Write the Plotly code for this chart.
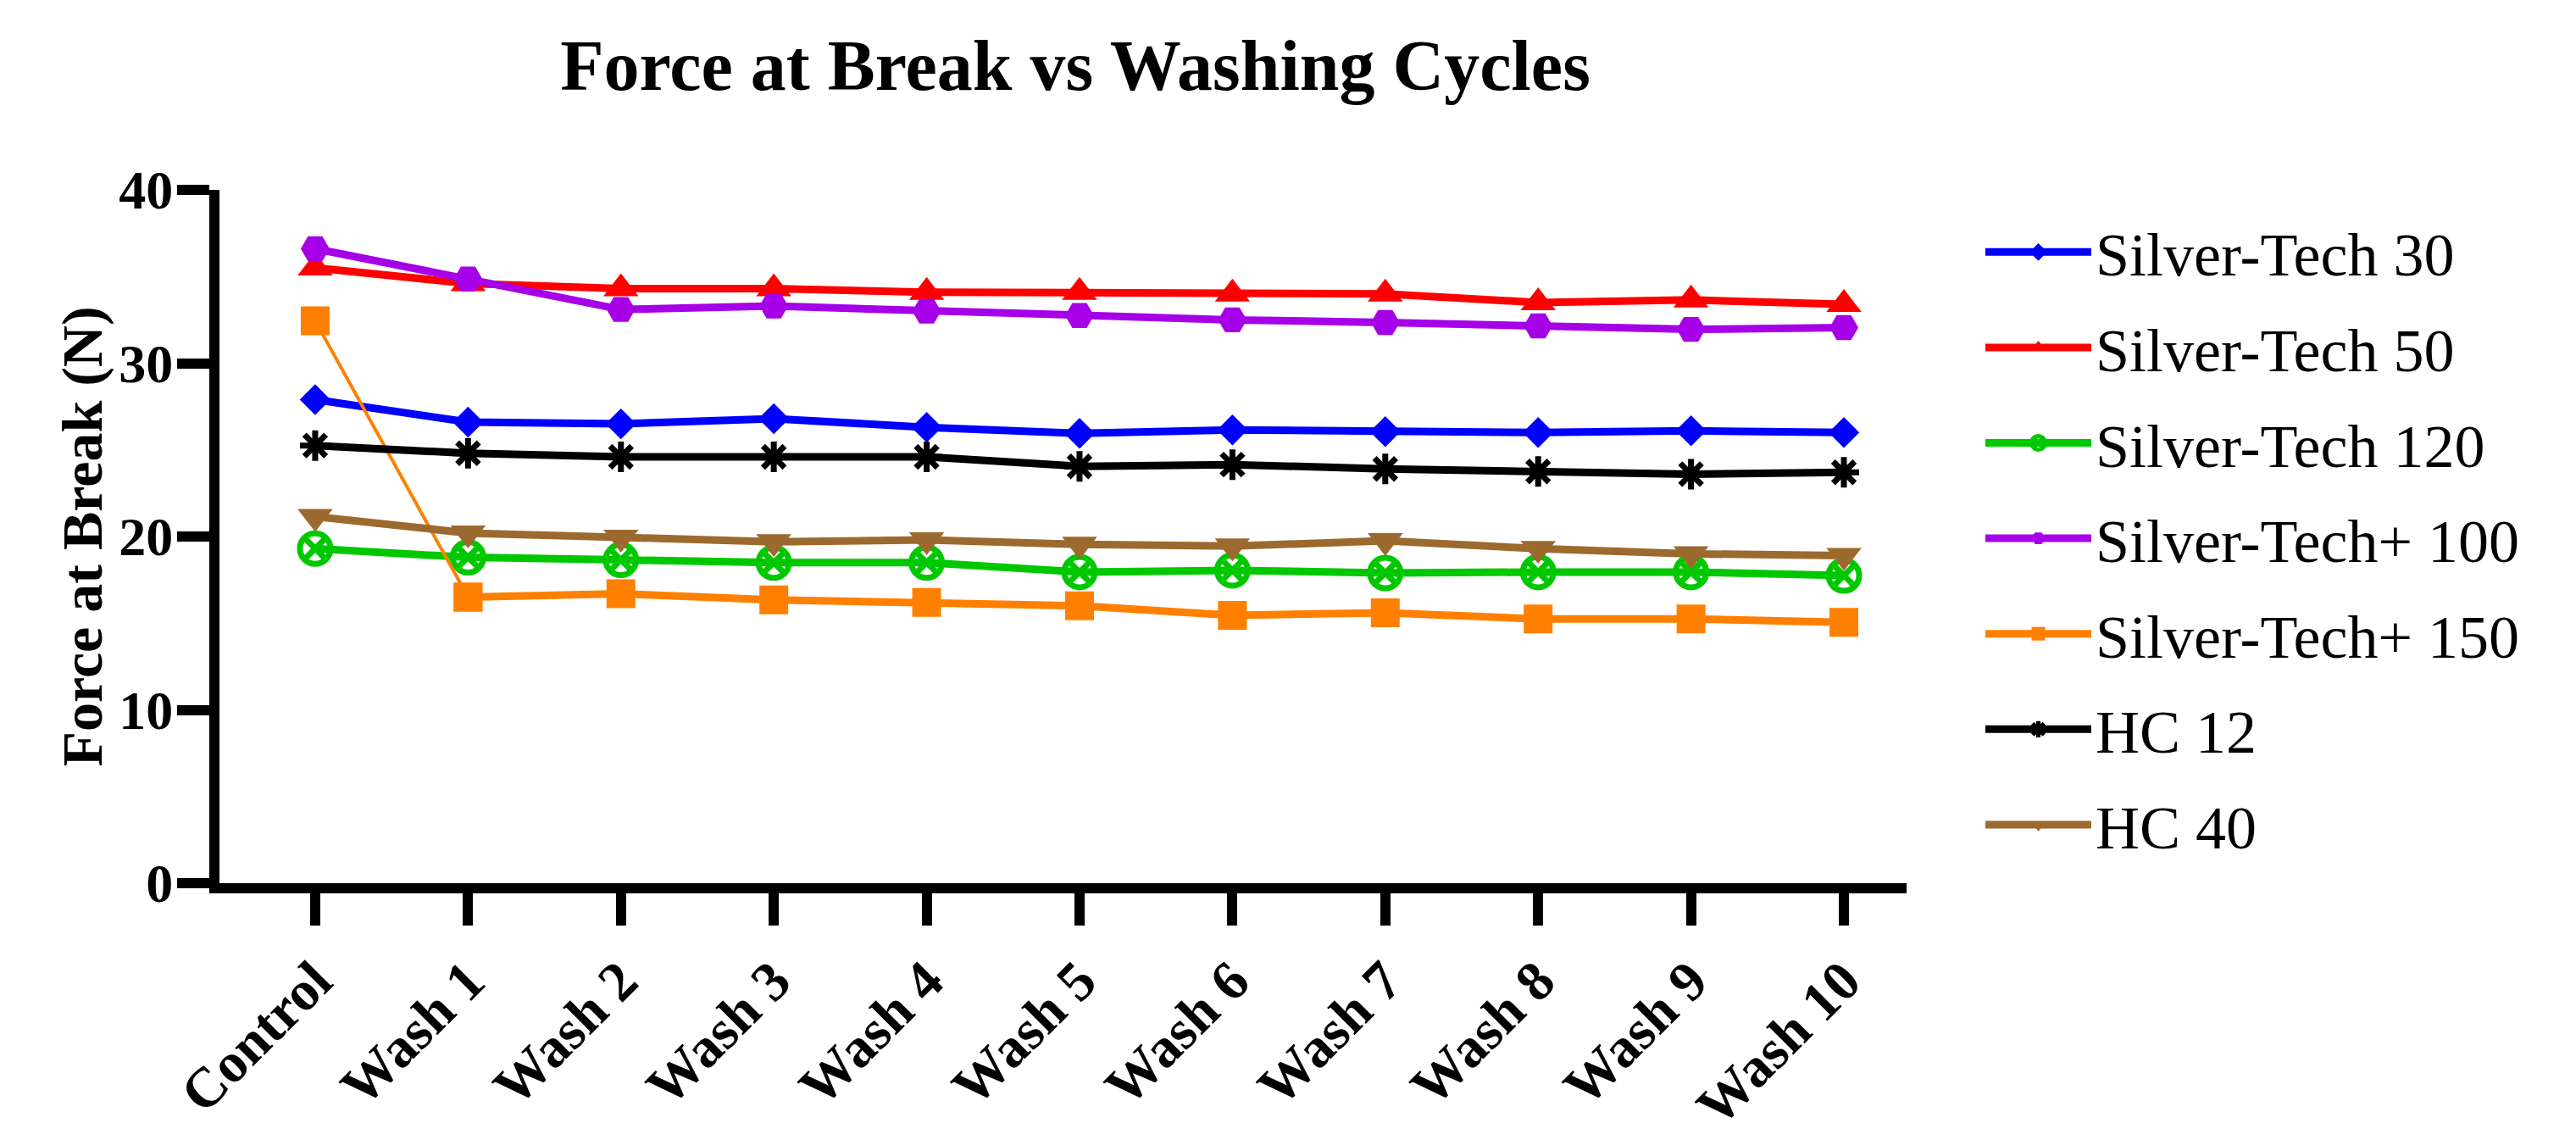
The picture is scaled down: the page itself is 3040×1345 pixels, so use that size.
import plotly.graph_objects as go

categories = ["Control", "Wash 1", "Wash 2", "Wash 3", "Wash 4", "Wash 5",
              "Wash 6", "Wash 7", "Wash 8", "Wash 9", "Wash 10"]

silver_tech_30 = [27.9, 26.6, 26.5, 26.8, 26.3, 25.95, 26.15, 26.05, 26.0, 26.1, 26.0]
silver_tech_50 = [35.5, 34.6, 34.3, 34.3, 34.1, 34.1, 34.0, 34.0, 33.5, 33.65, 33.4]
silver_tech_120 = [19.3, 18.8, 18.65, 18.5, 18.5, 17.95, 18.05, 17.9, 17.95, 17.95, 17.75]
silver_tech_plus_100 = [36.6, 34.85, 33.1, 33.3, 33.0, 32.75, 32.5, 32.35, 32.15, 31.95, 32.05]
silver_tech_plus_150 = [32.45, 16.5, 16.7, 16.35, 16.2, 16.0, 15.45, 15.6, 15.25, 15.25, 15.05]
hc_12 = [25.25, 24.8, 24.6, 24.6, 24.6, 24.05, 24.15, 23.9, 23.75, 23.6, 23.7]
hc_40 = [21.15, 20.2, 19.95, 19.7, 19.8, 19.55, 19.45, 19.75, 19.3, 19.0, 18.9]

y_ticks = [0, 10, 20, 30, 40]

FONT = "Palatino Linotype, Book Antiqua, Palatino, Liberation Serif, serif"

series = [
    ("Silver-Tech 30", silver_tech_30, "#0000FF", "diamond", 28, 0),
    ("Silver-Tech 50", silver_tech_50, "#FF0000", "triangle-up", 36, 0),
    ("Silver-Tech 120", silver_tech_120, "#00C800", "circle-x-open", 36, 7),
    ("Silver-Tech+ 100", silver_tech_plus_100, "#A600E8", "hexagon2", 34, 0),
    ("Silver-Tech+ 150", silver_tech_plus_150, "#FF8000", "square", 34, 0),
    ("HC 12", hc_12, "#000000", "asterisk-open", 30, 7),
    ("HC 40", hc_40, "#9C6A2E", "triangle-down", 36, 0),
]

fig = go.Figure()
for name, vals, color, sym, size, mlw in series:
    marker = dict(symbol=sym, size=size, color=color,
                  line=dict(color=color, width=mlw))
    if name == "Silver-Tech+ 150":
        # thin first segment as in the reference
        fig.add_trace(go.Scatter(
            x=categories[:2], y=vals[:2], mode="lines+markers",
            line=dict(color=color, width=4), marker=marker,
            showlegend=False, legendgroup=name, name=name))
        fig.add_trace(go.Scatter(
            x=categories[1:], y=vals[1:], mode="lines+markers",
            line=dict(color=color, width=9), marker=marker,
            legendgroup=name, name=name))
    else:
        fig.add_trace(go.Scatter(
            x=categories, y=vals, mode="lines+markers",
            line=dict(color=color, width=9), marker=marker,
            legendgroup=name, name=name))

W, H = 3040, 1345
fig.update_layout(
    width=W, height=H,
    paper_bgcolor="white", plot_bgcolor="white",
    margin=dict(l=251, r=W - 2242, t=216, b=H - 1051),
    font=dict(family=FONT, color="black"),
    title=dict(text="<b>Force at Break vs Washing Cycles</b>",
               font=dict(family=FONT, size=84, color="black"),
               x=1261 / W, xanchor="center", xref="container",
               y=1 - 69 / H, yanchor="middle", yref="container"),
    legend=dict(font=dict(family=FONT, size=72, color="black"),
                x=2330 / W, xanchor="left", xref="container",
                y=1 - 236 / H, yanchor="top", yref="container",
                tracegroupgap=16, itemwidth=125, maxheight=1200,
                bgcolor="rgba(0,0,0,0)"),
    showlegend=True,
)

fig.update_xaxes(
    type="category", categoryorder="array", categoryarray=categories,
    range=[-0.626, 10.41],
    showline=True, linecolor="black", linewidth=12,
    ticks="outside", ticklen=38, tickwidth=12, tickcolor="black",
    tickangle=-45, showgrid=False, zeroline=False,
    tickfont=dict(family=FONT, size=66, color="black", weight="bold"),
)
fig.update_yaxes(
    range=[0, 40], tickvals=y_ticks,
    showline=True, linecolor="black", linewidth=12,
    ticks="outside", ticklen=38, tickwidth=12, tickcolor="black",
    ticklabelstandoff=-8,
    showgrid=False, zeroline=False,
    tickfont=dict(family=FONT, size=64, color="black", weight="bold"),
    title=dict(text="<b>Force at Break (N)</b>", standoff=2,
               font=dict(family=FONT, size=68, color="black")),
)

fig.write_html("out.html")
